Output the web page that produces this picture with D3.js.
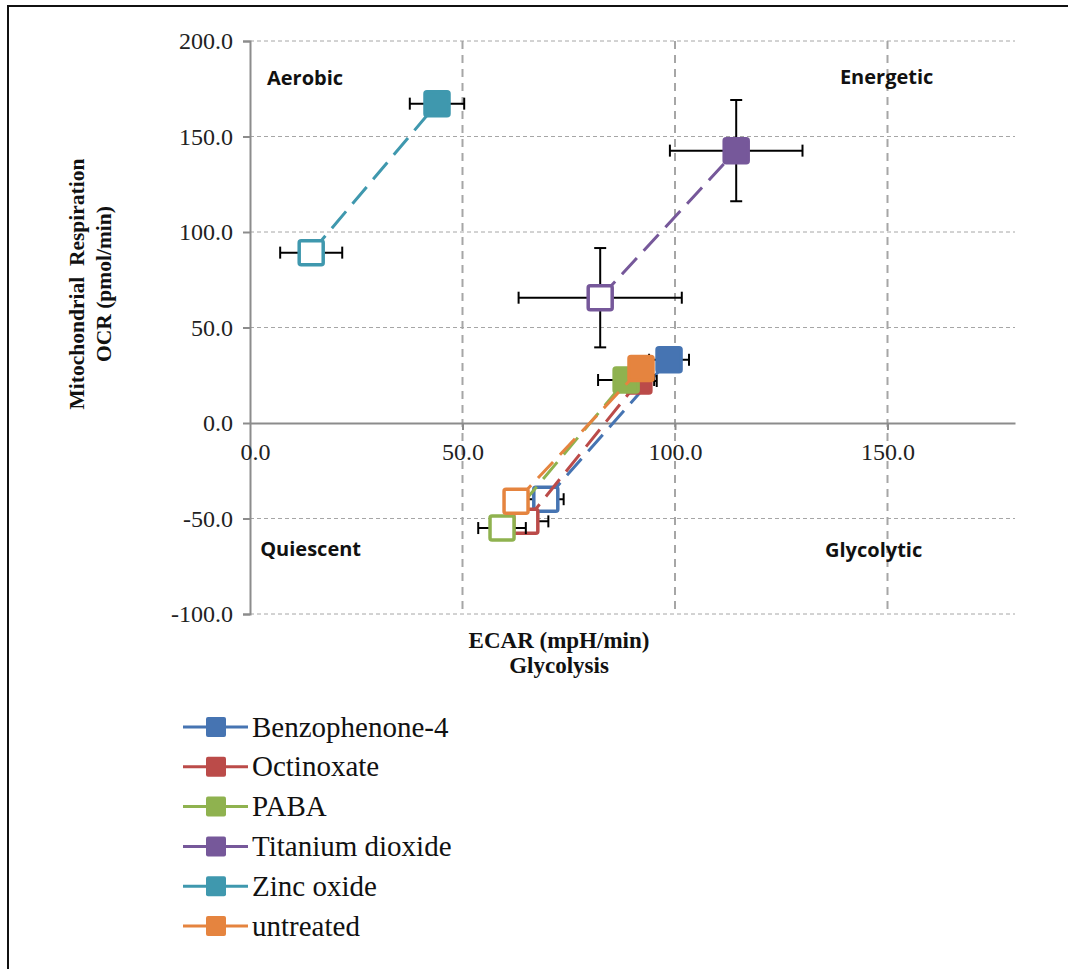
<!DOCTYPE html>
<html lang="en">
<head>
<meta charset="UTF-8">
<script src="https://cdn.jsdelivr.net/npm/d3@7"></script>
<style>
    body { margin: 0; background: #fff; }
    .tick-label { font: 24px "Liberation Serif", serif; fill: #222; }
    .axis-title { font: bold 23px "Liberation Serif", serif; fill: #111; }
    .axis-title.vert { font-size: 21.5px; }
    .quad { font: bold 20px "Open Sans", sans-serif; fill: #111; }
    .legend text { font: 29px "Liberation Serif", serif; fill: #111; }
</style>
</head>
<body>
<script>
    /* Series names and colours */
    var names = ["Benzophenone-4", "Octinoxate", "PABA", "Titanium dioxide", "Zinc oxide", "untreated"];
    var colors = ["#4674b2", "#bb4b49", "#8fb24f", "#76589a", "#3f98ae", "#e5843f"];

    // first point = open marker, second point = filled marker
    var ecar = [[69.6, 98.6], [64.9, 91.5], [59.3, 88.5], [82.4, 114.4], [14.4, 44.0], [62.6, 92.0]];
    var ocr = [[-39.9, 33.1], [-51.5, 22.0], [-55.0, 22.5], [65.6, 142.6], [89.2, 167.2], [-41.0, 28.5]];
    var ecarErr = [[4.2, 4.7], [5.3, 4.2], [5.6, 6.6], [19.2, 15.6], [7.3, 6.4], [1.5, 1.5]];
    var ocrErr = [[1.5, 1.5], [1.5, 1.5], [1.5, 1.5], [26.0, 26.5], [1.5, 1.5], [1.5, 1.5]];

    var xTicks = [0, 50, 100, 150];
    var yTicks = [-100, -50, 0, 50, 100, 150, 200];

    var quadrants = [
        {label: "Aerobic", x: 4, y: 180.8},
        {label: "Energetic", x: 138.8, y: 181.3},
        {label: "Quiescent", x: 2.4, y: -66},
        {label: "Glycolytic", x: 135.3, y: -66.5}
    ];

    var width = 1076, height = 969;
    var svg = d3.select("body").append("svg")
        .attr("width", width)
        .attr("height", height);

    // outer frame
    svg.append("path")
        .attr("d", "M8,969V6H1068")
        .attr("fill", "none")
        .attr("stroke", "#111")
        .attr("stroke-width", 2);

    var x = d3.scaleLinear().domain([0, 180]).range([250, 1015]);
    var y = d3.scaleLinear().domain([-100, 200]).range([614, 41]);
    var fmt = function(d) { return d.toFixed(1); };

    /* Grid lines */
    svg.append("g").selectAll("line")
        .data(yTicks.filter(function(d) { return d != 0; }))
        .join("line")
        .attr("x1", x(0)).attr("x2", x(180))
        .attr("y1", function(d) { return y(d); })
        .attr("y2", function(d) { return y(d); })
        .attr("stroke", "#a6a6a6")
        .attr("stroke-width", 1)
        .attr("stroke-dasharray", "4,3");

    svg.append("g").selectAll("line")
        .data(xTicks.filter(function(d) { return d != 0; }))
        .join("line")
        .attr("x1", function(d) { return x(d); })
        .attr("x2", function(d) { return x(d); })
        .attr("y1", y(200)).attr("y2", y(-100))
        .attr("stroke", "#a6a6a6")
        .attr("stroke-width", 2)
        .attr("stroke-dasharray", "8,6");

    /* Axes */
    var yAxis = svg.append("g")
        .attr("transform", "translate(" + x(0) + ",0)")
        .call(d3.axisLeft(y).tickValues(yTicks).tickSize(7).tickFormat(fmt));
    yAxis.select(".domain").attr("stroke", "#8c8c8c").attr("stroke-width", 2);
    yAxis.selectAll(".tick line").attr("stroke", "#8c8c8c").attr("stroke-width", 2);
    yAxis.selectAll(".tick text").attr("class", "tick-label").attr("x", -17).attr("dy", "0.33em");

    var xAxis = svg.append("g")
        .attr("transform", "translate(0," + y(0) + ")")
        .call(d3.axisBottom(x).tickValues(xTicks).tickSize(7).tickSizeOuter(0).tickFormat(fmt));
    xAxis.select(".domain").attr("stroke", "#8c8c8c").attr("stroke-width", 2);
    xAxis.selectAll(".tick line").attr("stroke", "#8c8c8c").attr("stroke-width", 2);
    xAxis.selectAll(".tick text").attr("class", "tick-label").attr("y", 29).attr("dy", "0.33em");
    xAxis.selectAll(".tick").filter(function(d) { return d == 0; }).select("line").remove();
    xAxis.selectAll(".tick").filter(function(d) { return d == 0; }).select("text").attr("x", 5);

    /* Axis titles */
    var yt = svg.append("text").attr("class", "axis-title vert")
        .attr("transform", "translate(84,284) rotate(-90)")
        .attr("text-anchor", "middle");
    yt.append("tspan").attr("x", 0).attr("y", 0).attr("xml:space", "preserve").text("Mitochondrial  Respiration");
    yt.append("tspan").attr("x", 0).attr("y", 27).text("OCR (pmol/min)");

    var xt = svg.append("text").attr("class", "axis-title").attr("text-anchor", "middle");
    xt.append("tspan").attr("x", 559).attr("y", 648).text("ECAR (mpH/min)");
    xt.append("tspan").attr("x", 559).attr("y", 673).text("Glycolysis");

    /* Quadrant labels */
    svg.append("g").selectAll("text")
        .data(quadrants)
        .join("text")
        .attr("class", "quad")
        .attr("x", function(d) { return x(d.x); })
        .attr("y", function(d) { return y(d.y); })
        .attr("dy", "0.35em")
        .text(function(d) { return d.label; });

    /* Series */
    var ms = 24;
    names.forEach(function(name, i) {
        var g = svg.append("g");
        var pts = [0, 1].map(function(j) {
            return {x: ecar[i][j], y: ocr[i][j], ex: ecarErr[i][j], ey: ocrErr[i][j], filled: j == 1};
        });

        // error bars
        pts.forEach(function(p) {
            var eb = g.append("g").attr("stroke", "#000").attr("stroke-width", 2);
            eb.append("line")
                .attr("x1", x(p.x - p.ex)).attr("x2", x(p.x + p.ex))
                .attr("y1", y(p.y)).attr("y2", y(p.y));
            [p.x - p.ex, p.x + p.ex].forEach(function(v) {
                eb.append("line")
                    .attr("x1", x(v)).attr("x2", x(v))
                    .attr("y1", y(p.y) - 6).attr("y2", y(p.y) + 6);
            });
            eb.append("line")
                .attr("x1", x(p.x)).attr("x2", x(p.x))
                .attr("y1", y(p.y - p.ey)).attr("y2", y(p.y + p.ey));
            [p.y - p.ey, p.y + p.ey].forEach(function(v) {
                eb.append("line")
                    .attr("x1", x(p.x) - 6).attr("x2", x(p.x) + 6)
                    .attr("y1", y(v)).attr("y2", y(v));
            });
        });

        // dashed connecting line
        g.append("path")
            .datum(pts)
            .attr("fill", "none")
            .attr("stroke", colors[i])
            .attr("stroke-width", 3)
            .attr("stroke-dasharray", "22,10")
            .attr("d", d3.line().x(function(d) { return x(d.x); }).y(function(d) { return y(d.y); }));

        // markers
        g.selectAll("rect")
            .data(pts)
            .join("rect")
            .attr("x", function(d) { return x(d.x) - ms / 2; })
            .attr("y", function(d) { return y(d.y) - ms / 2; })
            .attr("width", ms).attr("height", ms)
            .attr("rx", 2)
            .attr("fill", function(d) { return d.filled ? colors[i] : "#fff"; })
            .attr("stroke", colors[i])
            .attr("stroke-width", 3.5);
    });

    /* Legend */
    var legend = svg.append("g").attr("class", "legend")
        .attr("transform", "translate(183,727)");
    var row = legend.selectAll("g")
        .data(names)
        .join("g")
        .attr("transform", function(d, i) { return "translate(0," + i * 39.8 + ")"; });
    row.append("line")
        .attr("x1", 0).attr("x2", 65)
        .attr("stroke", function(d, i) { return colors[i]; })
        .attr("stroke-width", 3);
    row.append("rect")
        .attr("x", 23).attr("y", -10)
        .attr("width", 20).attr("height", 20)
        .attr("rx", 2)
        .attr("fill", function(d, i) { return colors[i]; });
    row.append("text")
        .attr("x", 69)
        .attr("dy", "0.33em")
        .text(function(d) { return d; });
</script>
</body>
</html>
